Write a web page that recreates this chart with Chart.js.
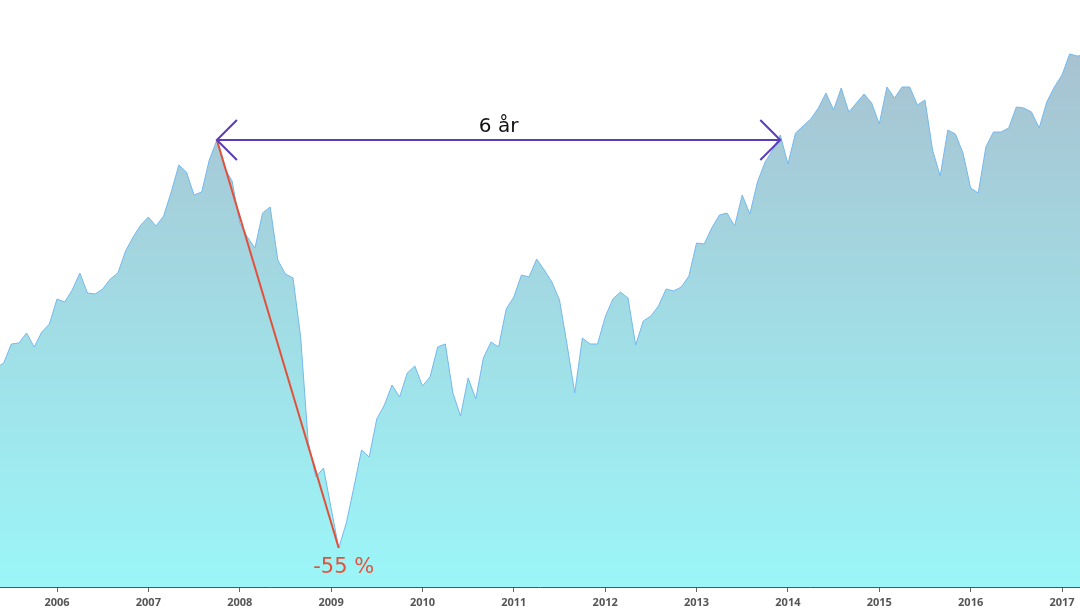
<!DOCTYPE html>
<html>
<head>
<meta charset="utf-8">
<script src="https://cdn.jsdelivr.net/npm/chart.js@4"></script>
<style>
  html, body { margin: 0; padding: 0; background: #fff; }
</style>
</head>
<body>
<canvas id="chart" width="1080" height="612"></canvas>
<script>
// monthly index values, May 2005 .. Apr 2017
const firstMonth = 2005 + 4 / 12;
const values = [
  514, 519, 538, 539, 549, 535, 550, 558,                     // 2005 (May-Dec)
  583, 580, 592, 609, 589, 588, 593, 603, 609, 631, 645, 657, // 2006
  665, 656, 666, 690, 717, 710, 687, 690, 722, 742, 714, 701, // 2007
  659, 645, 634, 669, 675, 622, 608, 604, 545, 439, 405, 414, // 2008
  374, 334, 359, 395, 432, 425, 463, 477, 497, 485, 509, 516, // 2009
  496, 505, 535, 538, 489, 466, 504, 483, 524, 540, 535, 573, // 2010
  585, 607, 605, 623, 612, 600, 582, 537, 489, 544, 538, 538, // 2011
  565, 583, 590, 584, 537, 561, 566, 576, 593, 591, 595, 606, // 2012
  639, 638, 654, 667, 669, 656, 687, 668, 700, 720, 732, 747, // 2013
  718, 749, 756, 763, 774, 789, 772, 794, 770, 779, 788, 779, // 2014
  758, 795, 784, 795, 795, 777, 782, 732, 706, 752, 748, 729, // 2015
  694, 689, 735, 750, 750, 754, 775, 774, 770, 754, 780, 795, // 2016
  807, 828, 826, 827                                          // 2017 (Jan-Apr)
];
const xMin = 2005.376;
const xMax = 2017.197;
const yMin = 295;
const yMax = 882;

// annotation anchors (month indexes)
const peakIdx = 29;     // Oct 2007
const troughIdx = 45;   // Feb 2009
const recoverIdx = 103; // Dec 2013
const spanLabel = "6 år";
const dropLabel = "-55 %";

const points = values.map((v, i) => ({ x: firstMonth + i / 12, y: v }));

const notes = {
  id: 'notes',
  afterDatasetsDraw(chart) {
    const { ctx, scales: { x, y } } = chart;
    const p = points[peakIdx], t = points[troughIdx], r = points[recoverIdx];
    const x0 = x.getPixelForValue(p.x), y0 = y.getPixelForValue(p.y);
    const x1 = x.getPixelForValue(r.x);
    const xt = x.getPixelForValue(t.x), yt = y.getPixelForValue(t.y);

    ctx.save();
    // red drop line
    ctx.strokeStyle = '#e2503a';
    ctx.lineWidth = 2;
    ctx.beginPath();
    ctx.moveTo(x0, y0);
    ctx.lineTo(xt, yt);
    ctx.stroke();

    // purple double arrow
    ctx.strokeStyle = '#5b3cb9';
    ctx.lineWidth = 2;
    ctx.beginPath();
    ctx.moveTo(x0, y0);
    ctx.lineTo(x1, y0);
    ctx.moveTo(x0 + 20, y0 - 20); ctx.lineTo(x0, y0); ctx.lineTo(x0 + 20, y0 + 20);
    ctx.moveTo(x1 - 20, y0 - 20); ctx.lineTo(x1, y0); ctx.lineTo(x1 - 20, y0 + 20);
    ctx.stroke();

    ctx.textAlign = 'center';
    ctx.textBaseline = 'alphabetic';
    ctx.font = '20px "DejaVu Sans"';
    ctx.fillStyle = '#111';
    ctx.fillText(spanLabel, (x0 + x1) / 2, y0 - 8);
    ctx.font = '21px "DejaVu Sans"';
    ctx.fillStyle = '#e2533d';
    ctx.fillText(dropLabel, xt + 5, yt + 25);
    ctx.restore();
  }
};

new Chart(document.getElementById('chart'), {
  type: 'line',
  data: {
    datasets: [{
      data: points,
      borderColor: '#74b8ee',
      borderWidth: 1,
      pointRadius: 0,
      fill: 'start',
      backgroundColor: (c) => {
        const area = c.chart.chartArea;
        if (!area) return '#a0dde6';
        const g = c.chart.ctx.createLinearGradient(0, area.top, 0, area.bottom);
        g.addColorStop(0, '#a9bdcd');
        g.addColorStop(1, '#9bf6f8');
        return g;
      }
    }]
  },
  options: {
    responsive: false,
    animation: false,
    layout: { padding: 0 },
    plugins: { legend: { display: false }, tooltip: { enabled: false } },
    scales: {
      x: {
        type: 'linear',
        min: xMin,
        max: xMax,
        border: { display: true, color: '#555', width: 1 },
        grid: { drawOnChartArea: false, drawTicks: true, tickLength: 5, color: '#666' },
        ticks: {
          stepSize: 1,
          includeBounds: false,
          autoSkip: false,
          maxRotation: 0,
          padding: 4,
          color: '#555',
          font: { family: '"Open Sans"', size: 11, weight: 'bold' },
          callback: (v) => String(v)
        },
        afterFit: (s) => { s.height = 25; }
      },
      y: { display: false, min: yMin, max: yMax }
    }
  },
  plugins: [notes]
});
</script>
</body>
</html>
